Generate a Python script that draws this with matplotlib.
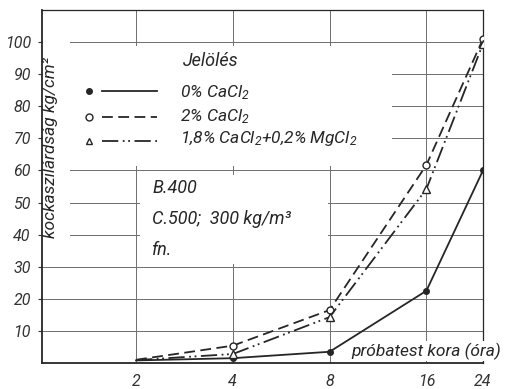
import matplotlib
matplotlib.use("Agg")
from matplotlib import pyplot as plt
from matplotlib.patches import Rectangle
from matplotlib.lines import Line2D

# adatok
kor = [2, 4, 8, 16, 24]
cacl_0 = [0.8, 1.5, 3.5, 22.5, 60]
cacl_2 = [1.0, 5.4, 16.5, 61.7, 101]
cacl_mg = [0.9, 2.8, 14.3, 54.2, 99.5]
y_ticks = [10, 20, 30, 40, 50, 60, 70, 80, 90, 100]
x_ticks = [2, 4, 8, 16, 24]

plt.rcParams['font.family'] = ['Roboto', 'DejaVu Sans']
plt.rcParams['font.style'] = 'italic'
plt.rcParams['mathtext.fontset'] = 'custom'
plt.rcParams['mathtext.rm'] = 'Roboto:italic'
plt.rcParams['mathtext.it'] = 'Roboto:italic'

INK = '#262626'
GRID = '#6e6e6e'

fig = plt.figure(figsize=(5.08, 3.89), dpi=100)
# tengely helye pixelben: bal 42, jobb 483, alul 363, fent 10
ax = fig.add_axes([42 / 508, (389 - 363) / 389, 441 / 508, 353 / 389])


def px(x, y):
    # kep pixel -> axes koordinata
    return (x - 42) / 441, (363 - y) / 353


ax.set_xscale('log', base=2)
ax.set_xlim(1.02, 24)
ax.set_ylim(0, 110)
ax.set_xticks(x_ticks)
ax.set_xticklabels([str(v) for v in x_ticks])
ax.minorticks_off()
ax.set_yticks(y_ticks)
ax.tick_params(axis='x', length=0, pad=8, labelsize=11.5, colors='#333333')
ax.tick_params(axis='y', length=3, width=0.8, pad=5, labelsize=11.5,
               colors='#333333')
for side, s in ax.spines.items():
    s.set_color(INK)
    s.set_linewidth(1.3 if side in ('left', 'bottom') else 0.9)

ax.grid(True, color=GRID, linewidth=0.7)
ax.set_axisbelow(True)

# racs kitakarasa a feliratok mogott
def mask(x0, y0, x1, y1):
    a, b = px(x0, y1)
    c, d = px(x1, y0)
    ax.add_patch(Rectangle((a, b), c - a, d - b, transform=ax.transAxes,
                           facecolor='white', edgecolor='none', zorder=1))


mask(70, 46, 392, 166)
mask(43, 38, 70, 250)
mask(140, 175, 328, 264)

# adatsorok
ax.plot(kor, cacl_0, color=INK, lw=1.3, ls='-', marker='o', ms=4,
        mfc=INK, mec=INK, markevery=[1, 2, 3, 4], zorder=3)
ax.plot(kor, cacl_2, color=INK, lw=1.3, ls=(0, (6, 3)), marker='o', ms=5,
        mfc='white', mec=INK, mew=1, markevery=[1, 2, 3, 4], zorder=3)
ax.plot(kor, cacl_mg, color=INK, lw=1.3, ls=(0, (9, 2.5, 1, 2, 1, 2.5)),
        marker='^', ms=6, mfc='white', mec=INK, mew=1,
        markevery=[1, 2, 3, 4], zorder=3)

# jelmagyarazat
ax.text(*px(183, 61), 'Jelölés', transform=ax.transAxes, fontsize=13,
        color=INK, va='center', ha='left')
rows = [
    (91, 93, 'o', INK, '-', '0% CaCl$_2$'),
    (117, 117, 'o', 'white', (0, (6, 3)), '2% CaCl$_2$'),
    (141, 139, '^', 'white', (0, (9, 2.5, 1, 2, 1, 2.5)), '1,8% CaCl$_2$+0,2% MgCl$_2$'),
]
for yy, ty, mk, fc, ls, lab in rows:
    mx, my = px(89, yy)
    ax.add_line(Line2D([mx], [my], transform=ax.transAxes, marker=mk,
                       ms=4 if fc == INK else 5, mfc=fc, mec=INK, mew=1,
                       ls='none', zorder=3))
    x0, y0 = px(102, yy)
    x1, _ = px(157, yy)
    ax.add_line(Line2D([x0, x1], [y0, y0], transform=ax.transAxes,
                       color=INK, lw=1.3, ls=ls, zorder=3))
    ax.text(*px(180, ty), lab, transform=ax.transAxes, fontsize=12.5,
            color=INK, va='center', ha='left')

# beton adatai
ax.text(*px(152, 188), 'B.400', transform=ax.transAxes, fontsize=13,
        color=INK, va='center', ha='left')
ax.text(*px(152, 219), 'C.500;  300 kg/m³', transform=ax.transAxes,
        fontsize=13, color=INK, va='center', ha='left')
ax.text(*px(152, 250), 'fn.', transform=ax.transAxes, fontsize=13,
        color=INK, va='center', ha='left')

# tengelyfeliratok
ax.text(*px(51, 148), 'kockaszilárdság kg/cm²', transform=ax.transAxes,
        rotation=90, fontsize=12.5, color=INK, va='center', ha='center')
ax.text(*px(351, 351), 'próbatest kora (óra)', transform=ax.transAxes,
        fontsize=12.5, color=INK, va='center', ha='left', clip_on=False,
        bbox=dict(facecolor='white', edgecolor='none', pad=1), zorder=4)

fig.savefig('out.png', dpi=100)
